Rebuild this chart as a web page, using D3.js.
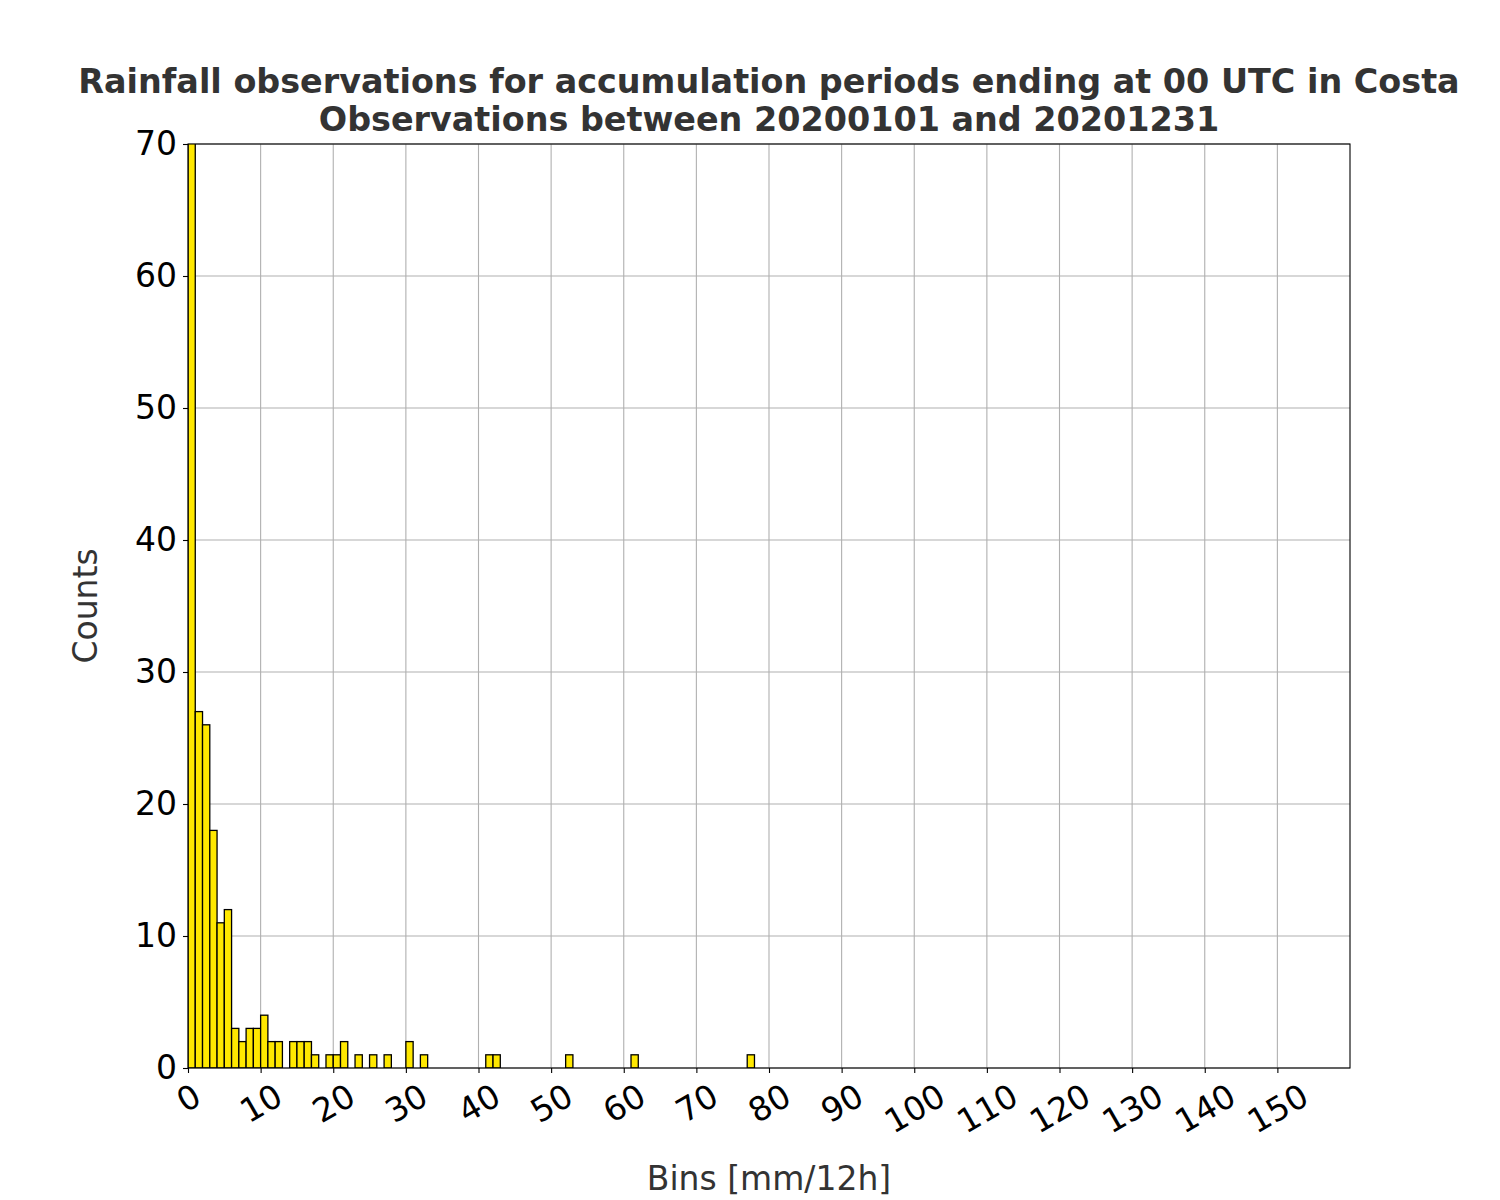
<!DOCTYPE html>
<html>
<head>
<meta charset="utf-8">
<script src="https://cdn.jsdelivr.net/npm/d3@7"></script>
<style>
  body { margin: 0; background: #fff; }
  text { font-family: "DejaVu Sans", sans-serif; }
</style>
</head>
<body>
<div id="chart"></div>
<script>
// Histogram counts per 1 mm bin, starting at 0 mm (first bin runs off the top)
const binStarts = d3.range(0, 86);
const counts = [
  160, 27, 26, 18, 11, 12, 3, 2, 3, 3,
  4, 2, 2, 0, 2, 2, 2, 1, 0, 1,
  1, 2, 0, 1, 0, 1, 0, 1, 0, 0,
  2, 0, 1, 0, 0, 0, 0, 0, 0, 0,
  0, 1, 1, 0, 0, 0, 0, 0, 0, 0,
  0, 0, 1, 0, 0, 0, 0, 0, 0, 0,
  0, 1, 0, 0, 0, 0, 0, 0, 0, 0,
  0, 0, 0, 0, 0, 0, 0, 1, 0, 0,
  0, 0, 0, 0, 0, 0
];
const xTicks = d3.range(0, 160, 10);
const yTicks = d3.range(0, 80, 10);
const titleLines = [
  "Rainfall observations for accumulation periods ending at 00 UTC in Costa",
  "Observations between 20200101 and 20201231"
];

const width = 1500, height = 1200;
const margin = { top: 144, right: 150, bottom: 132, left: 188 };
const innerW = width - margin.left - margin.right;
const innerH = height - margin.top - margin.bottom;

const svg = d3.select('#chart')
  .append('svg')
  .attr('width', width)
  .attr('height', height);

const x = d3.scaleLinear().domain([0, 160]).range([0, innerW]);
const y = d3.scaleLinear().domain([0, 70]).range([innerH, 0]);

const g = svg.append('g')
  .attr('transform', `translate(${margin.left},${margin.top})`);

svg.append('defs').append('clipPath')
  .attr('id', 'plot-clip')
  .append('rect')
  .attr('width', innerW)
  .attr('height', innerH);

// Grid lines
g.append('g')
  .selectAll('line')
  .data(xTicks)
  .join('line')
  .attr('x1', d => x(d)).attr('x2', d => x(d))
  .attr('y1', 0).attr('y2', innerH)
  .attr('stroke', '#b0b0b0')
  .attr('stroke-width', 1.1);

g.append('g')
  .selectAll('line')
  .data(yTicks)
  .join('line')
  .attr('x1', 0).attr('x2', innerW)
  .attr('y1', d => y(d)).attr('y2', d => y(d))
  .attr('stroke', '#b0b0b0')
  .attr('stroke-width', 1.1);

// Bars
g.append('g')
  .attr('clip-path', 'url(#plot-clip)')
  .selectAll('rect')
  .data(binStarts.map((b, i) => ({ b, c: counts[i] })))
  .join('rect')
  .attr('x', d => x(d.b))
  .attr('width', d => x(d.b + 1) - x(d.b))
  .attr('y', d => y(d.c))
  .attr('height', d => y(0) - y(d.c))
  .attr('fill', '#ffe800')
  .attr('stroke', '#000')
  .attr('stroke-width', 1.3);

// Frame
g.append('rect')
  .attr('width', innerW)
  .attr('height', innerH)
  .attr('fill', 'none')
  .attr('stroke', '#000')
  .attr('stroke-width', 1.1);

// X axis, labels rotated 30 degrees and centred under the tick
const xAxis = g.append('g')
  .attr('transform', `translate(0,${innerH})`)
  .call(d3.axisBottom(x).tickValues(xTicks).tickSize(5).tickSizeOuter(0));
xAxis.select('.domain').remove();
xAxis.selectAll('line').attr('stroke', '#000').attr('stroke-width', 1.1);
xAxis.selectAll('text')
  .attr('font-size', '33px')
  .attr('fill', '#000')
  .attr('text-anchor', 'middle')
  .attr('dy', null)
  .attr('y', 0)
  .attr('dominant-baseline', 'central')
  .each(function() {
    const bb = this.getBBox();
    const off = 8 + (bb.width * 0.5 + bb.height * 0.866) / 2;
    d3.select(this).attr('transform', `translate(0,${off}) rotate(-30)`);
  });

// Y axis
const yAxis = g.append('g')
  .call(d3.axisLeft(y).tickValues(yTicks).tickSize(5).tickPadding(6).tickSizeOuter(0));
yAxis.select('.domain').remove();
yAxis.selectAll('line').attr('stroke', '#000').attr('stroke-width', 1.1);
yAxis.selectAll('text')
  .attr('font-size', '33px')
  .attr('fill', '#000');

// Axis labels
svg.append('text')
  .attr('x', margin.left + innerW / 2)
  .attr('y', 1190)
  .attr('text-anchor', 'middle')
  .attr('font-size', '33px')
  .attr('fill', '#333')
  .text('Bins [mm/12h]');

svg.append('text')
  .attr('transform', `translate(97,${margin.top + innerH / 2}) rotate(-90)`)
  .attr('text-anchor', 'middle')
  .attr('font-size', '33px')
  .attr('fill', '#333')
  .text('Counts');

// Title
svg.append('g')
  .selectAll('text')
  .data(titleLines)
  .join('text')
  .attr('x', margin.left + innerW / 2)
  .attr('y', (d, i) => 93 + i * 38)
  .attr('text-anchor', 'middle')
  .attr('font-size', '33.4px')
  .attr('font-weight', 'bold')
  .attr('fill', '#333')
  .text(d => d);
</script>
</body>
</html>
